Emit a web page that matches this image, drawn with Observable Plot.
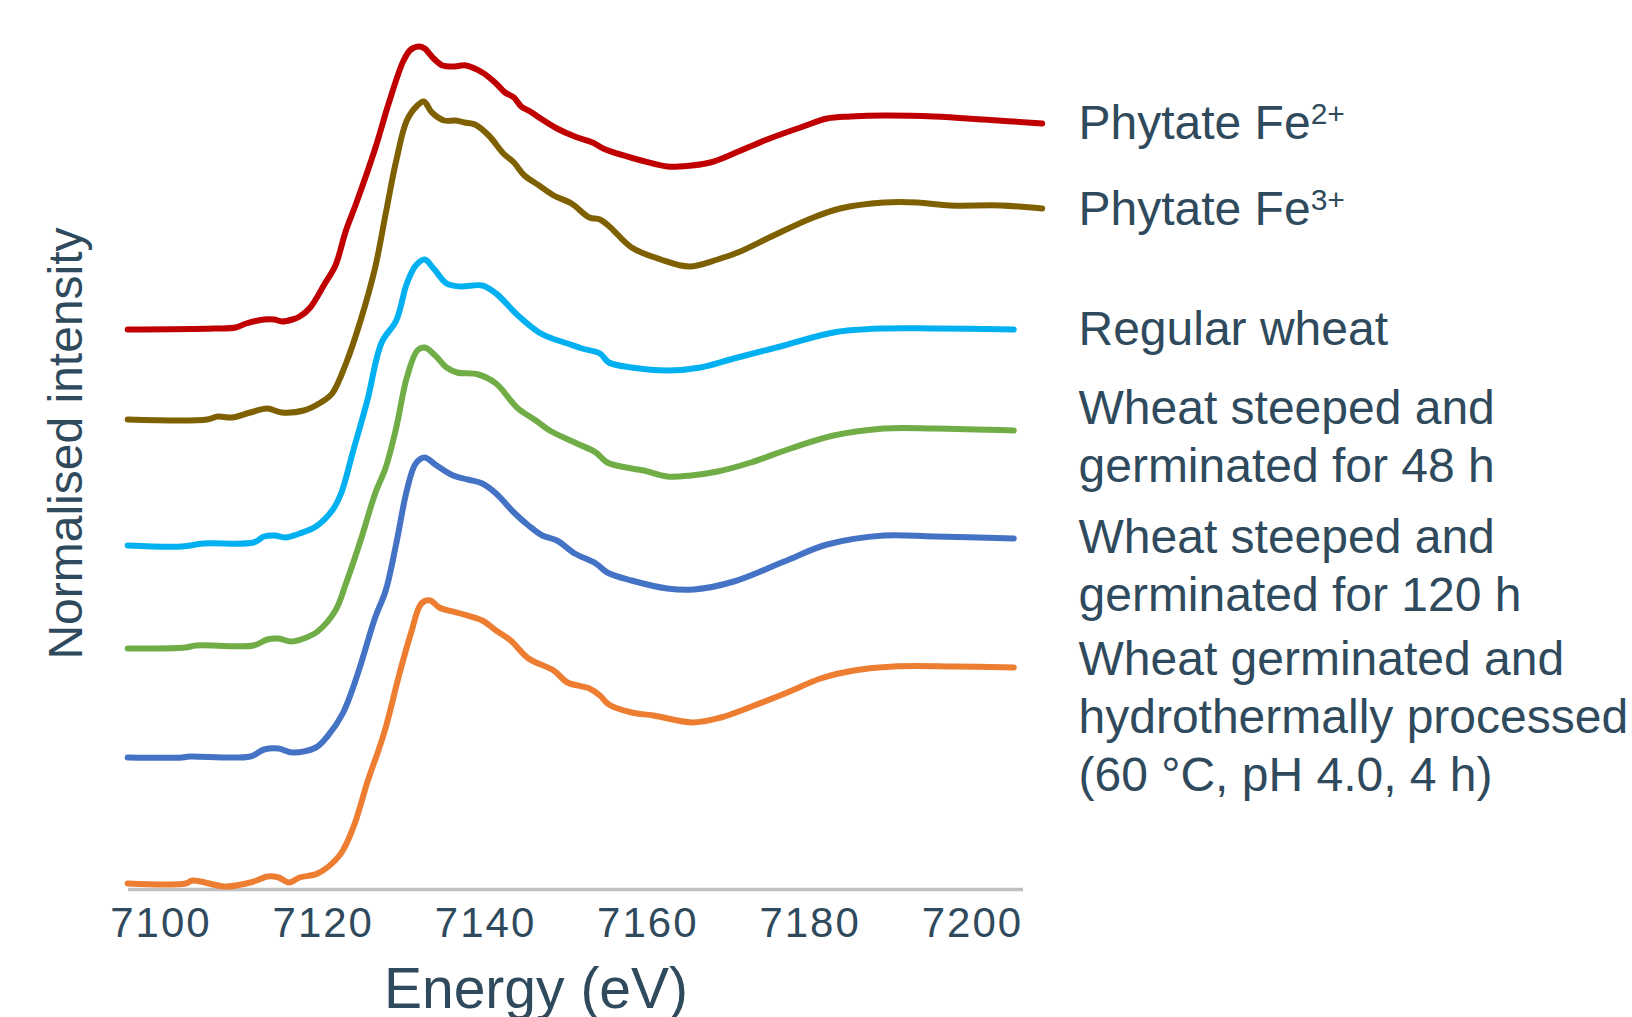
<!DOCTYPE html>
<html>
<head>
<meta charset="utf-8">
<script src="https://cdn.jsdelivr.net/npm/d3@7"></script>
<script src="https://cdn.jsdelivr.net/npm/@observablehq/plot@0.6"></script>
<style>
  html, body { margin: 0; padding: 0; background: #ffffff; }
  #chart { width: 1632px; height: 1017px; }
</style>
</head>
<body>
<div id="chart"></div>
<script>
// ---------------- DATA ----------------
const seriesNames = [
  "Phytate Fe2+",
  "Phytate Fe3+",
  "Regular wheat",
  "Wheat steeped and\ngerminated for 48 h",
  "Wheat steeped and\ngerminated for 120 h",
  "Wheat germinated and\nhydrothermally processed\n(60 °C, pH 4.0, 4 h)"
];

const xTicks = [7100, 7120, 7140, 7160, 7180, 7200];

const energyFe2 = [7095.9,7106.5,7109.2,7110.5,7112.7,7114.0,7114.9,7116.2,7117.1,7118.4,7120.2,7121.5,7122.8,7124.1,7126.4,7128.1,7129.9,7130.8,7131.9,7132.5,7133.6,7134.7,7136.0,7137.6,7139.6,7141.3,7142.4,7143.5,7144.4,7145.5,7146.6,7148.8,7151.0,7153.2,7154.5,7158.3,7162.4,7164.0,7167.7,7170.6,7174.7,7178.8,7182.1,7185.0,7189.1,7195.3,7201.4,7208.6];
const intensityFe2 = [5.60,5.61,5.62,5.66,5.70,5.70,5.68,5.70,5.73,5.82,6.06,6.24,6.59,6.87,7.41,7.87,8.29,8.40,8.43,8.41,8.31,8.24,8.23,8.24,8.17,8.06,7.97,7.92,7.83,7.78,7.72,7.61,7.53,7.47,7.41,7.31,7.23,7.23,7.27,7.36,7.50,7.62,7.71,7.73,7.74,7.73,7.70,7.66];

const energyFe3 = [7095.9,7105.7,7107.0,7108.7,7111.0,7113.1,7114.9,7117.6,7119.7,7121.1,7122.8,7124.6,7126.4,7127.7,7129.0,7130.3,7131.6,7132.4,7133.4,7134.9,7136.3,7137.4,7138.7,7140.4,7142.2,7143.5,7144.8,7146.6,7148.4,7150.6,7152.8,7154.1,7155.4,7158.0,7161.6,7165.1,7168.6,7171.4,7175.5,7180.1,7183.7,7189.1,7193.2,7197.3,7203.5,7208.6];
const intensityFe3 = [4.70,4.70,4.73,4.72,4.77,4.81,4.77,4.79,4.87,4.96,5.26,5.69,6.22,6.76,7.29,7.69,7.84,7.88,7.77,7.69,7.69,7.67,7.65,7.54,7.36,7.27,7.14,7.04,6.94,6.86,6.72,6.70,6.62,6.42,6.30,6.23,6.30,6.38,6.54,6.71,6.81,6.87,6.87,6.84,6.84,6.81];

const energyRegular = [7095.9,7102.6,7105.2,7111.4,7112.7,7114.0,7115.3,7117.1,7119.1,7121.1,7122.2,7123.7,7125.4,7127.2,7129.0,7130.3,7131.4,7132.5,7133.6,7135.2,7136.9,7139.6,7141.3,7144.0,7146.6,7147.9,7150.1,7151.9,7154.1,7155.2,7158.0,7162.4,7166.5,7170.6,7176.8,7182.9,7189.1,7195.3,7205.1];
const intensityRegular = [3.44,3.43,3.46,3.47,3.53,3.54,3.52,3.56,3.63,3.79,3.96,4.39,4.88,5.47,5.69,6.06,6.24,6.30,6.21,6.06,6.03,6.04,5.96,5.74,5.57,5.52,5.46,5.41,5.36,5.27,5.22,5.19,5.22,5.31,5.44,5.57,5.61,5.61,5.60];

const energy48h = [7095.9,7103.0,7104.3,7111.4,7113.1,7114.5,7116.0,7117.6,7119.3,7121.5,7122.8,7124.6,7126.4,7127.7,7129.0,7130.3,7131.6,7132.5,7133.8,7135.2,7136.5,7139.1,7141.3,7143.1,7144.0,7146.2,7147.9,7151.0,7153.6,7155.0,7158.0,7159.5,7162.4,7165.3,7168.6,7172.7,7177.6,7182.9,7189.1,7195.3,7205.1];
const intensity48h = [2.41,2.42,2.44,2.44,2.50,2.51,2.48,2.51,2.58,2.79,3.06,3.49,3.96,4.22,4.62,5.12,5.39,5.42,5.34,5.22,5.17,5.15,5.06,4.89,4.81,4.69,4.59,4.47,4.37,4.27,4.21,4.19,4.13,4.14,4.18,4.27,4.41,4.54,4.61,4.61,4.59];

const energy120h = [7095.9,7102.6,7103.5,7111.0,7112.7,7114.5,7116.2,7119.1,7120.6,7122.4,7124.1,7126.4,7127.7,7129.0,7130.3,7131.4,7132.5,7133.8,7136.0,7137.8,7139.6,7141.3,7143.5,7145.3,7147.0,7148.8,7151.0,7153.6,7155.0,7158.0,7162.4,7165.7,7170.6,7176.8,7182.1,7189.1,7195.3,7205.1];
const intensity120h = [1.32,1.32,1.33,1.33,1.40,1.41,1.37,1.42,1.54,1.76,2.12,2.72,2.99,3.46,3.99,4.26,4.32,4.25,4.14,4.10,4.06,3.96,3.77,3.64,3.54,3.49,3.36,3.26,3.17,3.09,3.01,3.00,3.08,3.28,3.45,3.54,3.53,3.51];

const energyHydro = [7095.9,7103.0,7103.9,7107.9,7110.5,7111.8,7113.1,7114.5,7115.8,7117.1,7119.3,7122.0,7123.7,7125.5,7126.8,7127.7,7129.4,7130.8,7132.1,7133.2,7134.3,7136.9,7139.6,7141.3,7143.1,7145.3,7148.4,7150.1,7152.8,7154.1,7155.2,7158.0,7160.7,7165.5,7169.0,7173.1,7177.2,7181.3,7185.4,7190.3,7197.7,7205.1];
const intensityHydro = [0.06,0.06,0.09,0.03,0.06,0.09,0.13,0.12,0.07,0.12,0.16,0.34,0.62,1.09,1.39,1.62,2.16,2.56,2.86,2.89,2.82,2.76,2.69,2.59,2.49,2.31,2.19,2.07,2.01,1.94,1.85,1.77,1.74,1.67,1.72,1.84,1.97,2.11,2.19,2.23,2.23,2.22];

// ---------------- BUILD ----------------
const energies = [energyFe2, energyFe3, energyRegular, energy48h, energy120h, energyHydro];
const intensities = [intensityFe2, intensityFe3, intensityRegular, intensity48h, intensity120h, intensityHydro];

const rows = seriesNames.flatMap((name, s) =>
  energies[s].map((e, i) => ({series: name, energy: e, intensity: intensities[s][i]}))
);
const lastPoints = seriesNames.map((name, s) => ({
  series: name,
  energy: energies[s][energies[s].length - 1],
  intensity: intensities[s][intensities[s].length - 1]
}));

const lineColors = ["#C00000", "#7F6000", "#00B0F0", "#70AD47", "#4472C4", "#ED7D31"];
const labelDy = [-25, -24, -25, -47, -26, -33];
const textColor = "#2F4A5C";
const sansFont = "'Liberation Sans', Arial, sans-serif";

const labelMarks = lastPoints.map((p, i) =>
  Plot.text([p], {
    y: "intensity",
    text: "series",
    frameAnchor: "right",
    dx: 55,
    dy: labelDy[i],
    textAnchor: "start",
    lineAnchor: "top",
    lineHeight: 1.2,
    fontSize: 48,
    fill: textColor,
    className: "series-label"
  })
);

const chart = Plot.plot({
  width: 1632,
  height: 1017,
  marginLeft: 128,
  marginRight: 609,
  marginTop: 29,
  marginBottom: 128,
  style: {fontFamily: sansFont, color: textColor, background: "#ffffff", overflow: "visible"},
  x: {domain: [7096, 7206.3]},
  y: {domain: [0, 8.6], axis: null},
  color: {domain: seriesNames, range: lineColors},
  marks: [
    Plot.ruleY([0], {stroke: "#BFBFBF", strokeWidth: 3.5}),
    Plot.line(rows, {
      x: "energy",
      y: "intensity",
      z: "series",
      stroke: "series",
      strokeWidth: 6,
      curve: "catmull-rom",
      strokeLinecap: "round",
      strokeLinejoin: "round"
    }),
    Plot.axisX(xTicks, {tickSize: 0, tickPadding: 18, fontSize: 42, label: null, fill: textColor, tickFormat: (d) => String(d), className: "x-ticks"}),
    Plot.text(["Energy (eV)"], {frameAnchor: "bottom", lineAnchor: "top", dy: 78, dx: -40, fontSize: 57, fill: textColor}),
    Plot.text(["Normalised intensity"], {frameAnchor: "left", textAnchor: "middle", rotate: -90, dx: -62, dy: -16, fontSize: 48, fill: textColor}),
    ...labelMarks
  ]
});

// slightly wider tick numerals
d3.select(chart).selectAll("g.x-ticks text").style("letter-spacing", "2px");

// superscript the ion charges
d3.select(chart).selectAll("g.series-label text").each(function () {
  const t = this.textContent;
  const m = t.match(/^(.*Fe)(\d\+)$/);
  if (m) {
    this.textContent = m[1];
    const ts = document.createElementNS("http://www.w3.org/2000/svg", "tspan");
    ts.setAttribute("font-size", "30");
    ts.setAttribute("dy", "-15");
    ts.textContent = m[2];
    this.appendChild(ts);
  }
});

document.getElementById("chart").appendChild(chart);
</script>
</body>
</html>
